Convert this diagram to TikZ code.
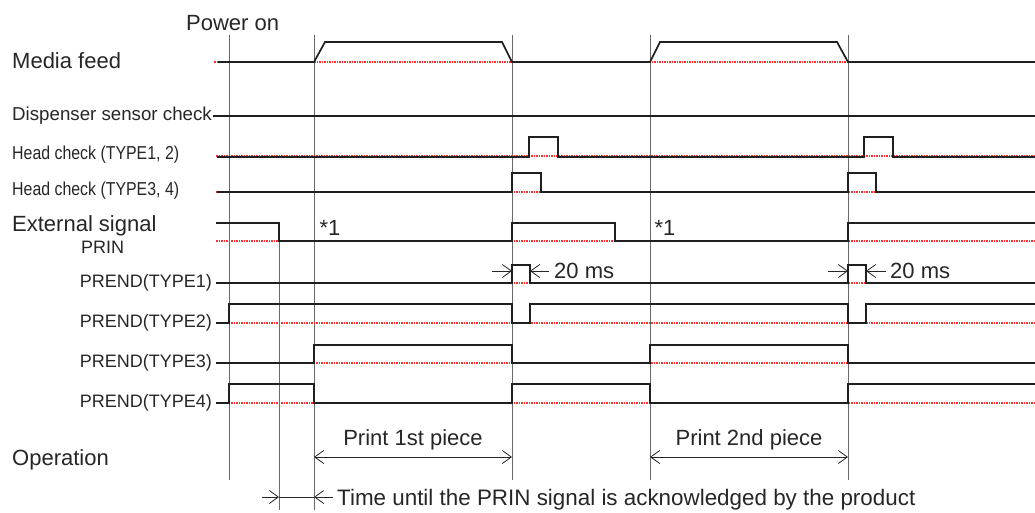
\documentclass[tikz,border=0pt]{standalone}
\usepackage{fontspec}
\setmainfont{Liberation Sans}
\newfontfamily\condfont[FakeStretch=0.85]{Liberation Sans}
\usetikzlibrary{arrows.meta}
\definecolor{timingred}{RGB}{255,45,45}
\definecolor{timinggrid}{RGB}{105,105,105}
\tikzset{
  timing mark/.style={line width=0.8pt,draw=timinggrid},
  timing base/.style={line width=1.4pt,draw=timingred,dash pattern=on 1.5pt off 1pt},
  timing sig/.style={line width=1.7pt,draw=black!88,line join=miter},
  timing dim/.style={line width=0.8pt,draw=black!85,-{Straight Barb[length=9pt,width=13pt,line width=0.8pt]}},
  timing big/.style={font=\fontsize{22}{26}\selectfont,inner sep=0pt,text=black!85},
  timing small/.style={font=\fontsize{18}{21}\selectfont,inner sep=0pt,text=black!85},
  timing cond/.style={font=\condfont\fontsize{18.7}{22}\selectfont,inner sep=0pt,text=black!85}
}

\begin{document}
\begin{tikzpicture}[x=1pt,y=-1pt]
  \useasboundingbox (0,0) rectangle (1035,512);

  \foreach \t in {229,512,650,848}
    \draw[timing mark] (\t,35) -- (\t,480);
  \draw[timing mark] (314,35) -- (314,510);
  \draw[timing mark] (279,223) -- (279,510);

  \foreach \y/\xs in {62/214,156/216,192/216,241/216,283/216,323/216,363/216,403/216}
    \draw[timing base] (\xs,\y) -- (1035,\y);

  \node[timing big,anchor=base west] (poweron) at (186,30) {Power on};
  \node[timing big,anchor=base west] (mediafeed) at (12,68) {Media feed};
  \node[timing small,font=\fontsize{18.7}{22}\selectfont,anchor=east] (dispenser) at (212,116) {Dispenser sensor check};
  \node[timing cond,anchor=west] (headA) at (12,155) {Head check (TYPE1, 2)};
  \node[timing cond,anchor=west] (headB) at (12,191) {Head check (TYPE3, 4)};
  \node[timing big,anchor=base west] (external) at (12,231) {External signal};
  \node[timing small,anchor=base west] (prin) at (81,253) {PRIN};
  \node[timing small,anchor=east] (prendA) at (212,283) {PREND(TYPE1)};
  \node[timing small,anchor=east] (prendB) at (212,323) {PREND(TYPE2)};
  \node[timing small,anchor=east] (prendC) at (212,363) {PREND(TYPE3)};
  \node[timing small,anchor=east] (prendD) at (212,403) {PREND(TYPE4)};
  \node[timing big,anchor=base west] (operation) at (12,465) {Operation};

  \draw[timing sig] (218,62) -- (314,62) -- (325,42) -- (502,42) -- (512,62) -- (650,62)
    -- (660,42) -- (837,42) -- (848,62) -- (1035,62);
  \draw[timing sig] (213,116) -- (1035,116);
  \draw[timing sig] (217,157) -- (529,157) -- (529,137) -- (558,137) -- (558,157) -- (864,157)
    -- (864,137) -- (893,137) -- (893,157) -- (1035,157);
  \draw[timing sig] (217,192) -- (512,192) -- (512,173) -- (541,173) -- (541,192) -- (848,192)
    -- (848,173) -- (876,173) -- (876,192) -- (1035,192);
  \draw[timing sig] (216,223) -- (279,223) -- (279,241) -- (512,241) -- (512,223) -- (615,223)
    -- (615,241) -- (848,241) -- (848,223) -- (1035,223);
  \draw[timing sig] (216,283) -- (512,283) -- (512,265) -- (530,265) -- (530,283) -- (848,283)
    -- (848,265) -- (866,265) -- (866,283) -- (1035,283);
  \draw[timing sig] (216,323) -- (229,323) -- (229,304) -- (512,304) -- (512,323) -- (530,323)
    -- (530,304) -- (848,304) -- (848,323) -- (866,323) -- (866,304) -- (1035,304);
  \draw[timing sig] (216,363) -- (314,363) -- (314,345) -- (512,345) -- (512,363) -- (650,363)
    -- (650,345) -- (848,345) -- (848,363) -- (1035,363);
  \draw[timing sig] (216,403) -- (229,403) -- (229,384) -- (314,384) -- (314,403) -- (512,403)
    -- (512,384) -- (650,384) -- (650,403) -- (848,403) -- (848,384) -- (1035,384);

  \node[timing big] (starA) at (330,228) {*1};
  \node[timing big] (starB) at (665,228) {*1};

  \draw[timing dim] (492,271) -- (512,271);
  \draw[timing dim] (549,271) -- (530,271);
  \node[timing big,anchor=west] (msA) at (554,271) {20 ms};
  \draw[timing dim] (828,271) -- (848,271);
  \draw[timing dim] (886,271) -- (866,271);
  \node[timing big,anchor=west] (msB) at (890,271) {20 ms};

  \node[timing big,anchor=base] (printA) at (413,445) {Print 1st piece};
  \draw[timing dim,{Straight Barb[length=9pt,width=13pt,line width=0.8pt]}-{Straight Barb[length=9pt,width=13pt,line width=0.8pt]}] (314,457) -- (512,457);
  \node[timing big,anchor=base] (printB) at (749,445) {Print 2nd piece};
  \draw[timing dim,{Straight Barb[length=9pt,width=13pt,line width=0.8pt]}-{Straight Barb[length=9pt,width=13pt,line width=0.8pt]}] (650,457) -- (848,457);

  \draw[timing dim] (262,497) -- (279,497);
  \draw[line width=0.8pt,draw=black!85] (279,497) -- (314,497);
  \draw[timing dim] (333,497) -- (314,497);
  \node[timing big,font=\fontsize{22.4}{26}\selectfont,anchor=base west] (ackn) at (337,505) {Time until the PRIN signal is acknowledged by the product};
\end{tikzpicture}
\end{document}
